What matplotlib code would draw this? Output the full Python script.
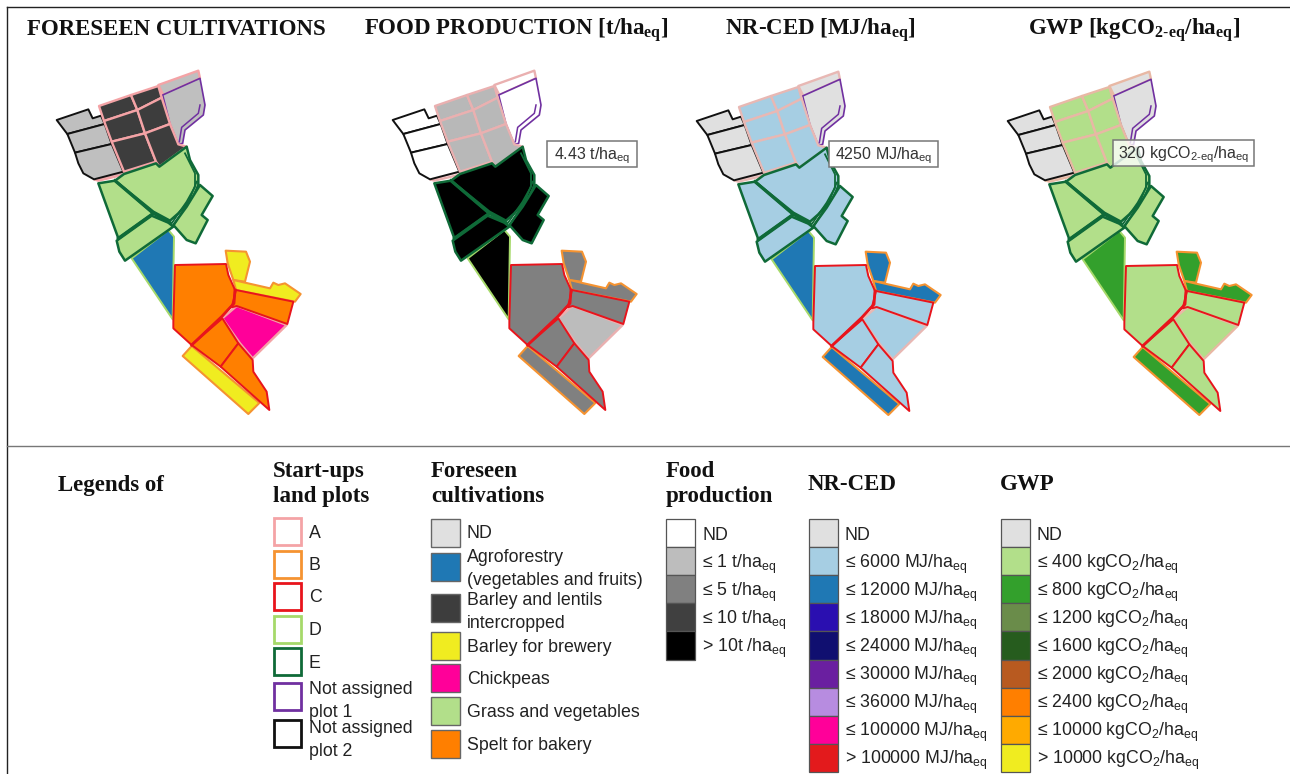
import matplotlib
matplotlib.use('Agg')
import matplotlib.pyplot as plt
from matplotlib.patches import Polygon, Rectangle

plt.rcParams['font.family'] = ['Liberation Sans', 'DejaVu Sans']
plt.rcParams['mathtext.fontset'] = 'custom'
plt.rcParams['mathtext.rm'] = 'Liberation Sans'
plt.rcParams['mathtext.bf'] = 'Liberation Serif:bold'

SERIF = ['Liberation Serif', 'DejaVu Serif']

titles = ['FORESEEN CULTIVATIONS', r'FOOD PRODUCTION [t/ha$_{\mathbf{eq}}$]',
          r'NR-CED [MJ/ha$_{\mathbf{eq}}$]', r'GWP [kgCO$_{\mathbf{2\text{-}eq}}$/ha$_{\mathbf{eq}}$]']
title_x = [27, 364, 725, 1028]
panel_dx = [0, 336, 640, 951]
panel_dy = [0, 0, 1, 1]

callouts = [r'4.43 t/ha$_{\mathrm{eq}}$', r'4250 MJ/ha$_{\mathrm{eq}}$',
            r'320 kgCO$_{\mathrm{2\text{-}eq}}$/ha$_{\mathrm{eq}}$']
callout_box = [(547, 141, 90, 26), (829, 141, 109, 26), (1113, 140, 141, 26)]
callout_alpha = [1.0, 1.0, 0.8]

PINK = '#f4a3a6'
ORANGE = '#f59331'
RED = '#e8141c'
LGREEN = '#a6d96a'
DGREEN = '#0f6a38'
PURPLE = '#7030a0'
BLACK = '#111111'
edge_lw = {PINK: 1.7, ORANGE: 1.5, RED: 1.4, LGREEN: 1.4, DGREEN: 1.8, PURPLE: 1.2, BLACK: 1.4}

# plot outlines (pixels x3 from the first map corner)
plots = [
    ('nd', PINK, [(385, 105), (505, 62), (510, 85), (400, 135)]),
    ('nd', PURPLE, [(398, 135), (510, 85), (525, 165), (520, 195), (465, 240), (458, 280), (445, 283), (420, 222)]),
    ('nd', PINK, [(192, 388), (280, 365), (290, 372), (205, 392)]),
    ('nd', BLACK, [(80, 210), (175, 178), (188, 205), (213, 197), (224, 222), (112, 252), (105, 243)]),
    ('nd', BLACK, [(112, 252), (224, 222), (245, 282), (135, 308)]),
    ('nd', BLACK, [(135, 308), (245, 282), (280, 365), (192, 388), (160, 370), (145, 340)]),
    ('barley', PINK, [(207, 168), (303, 135), (322, 180), (222, 213)]),
    ('barley', PINK, [(303, 135), (385, 108), (395, 143), (322, 180)]),
    ('barley', PINK, [(222, 213), (322, 180), (345, 250), (245, 275)]),
    ('barley', PINK, [(322, 180), (395, 143), (420, 222), (345, 250)]),
    ('barley', PINK, [(245, 275), (345, 250), (378, 335), (282, 365)]),
    ('barley', PINK, [(345, 250), (420, 222), (445, 283), (470, 290), (388, 350), (378, 335)]),
    ('agro', LGREEN, [(305, 625), (415, 540), (432, 560), (428, 808)]),
    ('grass', DGREEN, [(255, 392), (282, 372), (378, 340), (388, 350), (470, 290), (480, 330), (505, 375), (505, 405), (490, 440), (445, 490), (420, 512), (370, 485)]),
    ('grass', DGREEN, [(205, 400), (255, 392), (370, 490), (265, 565)]),
    ('grass', DGREEN, [(260, 572), (365, 497), (415, 518), (430, 530), (285, 632), (268, 605)]),
    ('grass', DGREEN, [(510, 405), (548, 438), (515, 495), (533, 510), (497, 580), (470, 570), (430, 525), (470, 470)]),
    ('brewery', ORANGE, [(587, 602), (648, 605), (660, 635), (645, 695), (610, 690), (593, 640)]),
    ('brewery', ORANGE, [(610, 690), (720, 715), (730, 698), (745, 705), (765, 700), (812, 732), (795, 755), (618, 720)]),
    ('brewery', ORANGE, [(485, 888), (688, 1059), (655, 1092), (458, 918)]),
    ('chickpea', PINK, [(620, 768), (770, 825), (668, 925), (630, 880), (577, 805)]),
    ('spelt', RED, [(435, 645), (588, 642), (595, 675), (615, 720), (612, 760), (575, 800), (485, 885), (430, 835), (430, 815)]),
    ('spelt', RED, [(485, 885), (577, 805), (625, 880), (572, 950)]),
    ('spelt', RED, [(572, 950), (625, 880), (668, 930), (670, 965), (710, 1025), (718, 1080)]),
    ('spelt', RED, [(618, 720), (790, 755), (772, 822), (620, 768), (605, 772)]),
]
purple_inner = [(510, 165), (505, 190), (455, 232), (448, 275)]
green_inner = [[(465, 310), (495, 370), (495, 410), (470, 455), (425, 520)],
               [(500, 395), (478, 450), (432, 525)]]
green_thick = [[(255, 392), (370, 490), (420, 518)], [(265, 565), (370, 490)]]
red_thick = [[(615, 720), (612, 760), (575, 800), (485, 885)]]

fills = [
    {'nd': '#bfbfbf', 'agro': '#1f78b4', 'barley': '#3d3d3d', 'brewery': '#f0ec20',
     'chickpea': '#ff0099', 'grass': '#b2df8a', 'spelt': '#ff7f00'},
    {'nd': '#ffffff', 'agro': '#000000', 'barley': '#b8b8b8', 'brewery': '#808080',
     'chickpea': '#bcbcbc', 'grass': '#000000', 'spelt': '#808080'},
    {'nd': '#e0e0e0', 'agro': '#1f78b4', 'barley': '#a6cee3', 'brewery': '#1f78b4',
     'chickpea': '#a6cee3', 'grass': '#a6cee3', 'spelt': '#a6cee3'},
    {'nd': '#e0e0e0', 'agro': '#33a02c', 'barley': '#b2df8a', 'brewery': '#33a02c',
     'chickpea': '#b2df8a', 'grass': '#b2df8a', 'spelt': '#b2df8a'},
]
pink_edge = [PINK, '#eab0b0', '#e8b8b4', '#e8b8a4']

# legends
owner_labels = ['A', 'B', 'C', 'D', 'E', 'Not assigned\nplot 1', 'Not assigned\nplot 2']
owner_colors = [PINK, ORANGE, RED, LGREEN, DGREEN, PURPLE, BLACK]
owner_y = [518, 551, 583, 616, 648, 683, 720]
owner_text_y = [533, 565.5, 598, 630.5, 663, 701, 740]

crop_labels = ['ND', 'Agroforestry\n(vegetables and fruits)', 'Barley and lentils\nintercropped',
               'Barley for brewery', 'Chickpeas', 'Grass and vegetables', 'Spelt for bakery']
crop_colors = ['#e0e0e0', '#1f78b4', '#3d3d3d', '#f0ec20', '#ff0099', '#b2df8a', '#ff7f00']
crop_y = [519, 553, 594, 632, 664, 697, 730]
crop_text_y = [533.5, 569, 612, 647.5, 679.5, 712.5, 745.5]

food_labels = ['ND', r'≤ 1 t/ha$_{\mathrm{eq}}$', r'≤ 5 t/ha$_{\mathrm{eq}}$',
               r'≤ 10 t/ha$_{\mathrm{eq}}$', r'> 10t /ha$_{\mathrm{eq}}$']
food_colors = ['#ffffff', '#bdbdbd', '#808080', '#404040', '#000000']

ced_limits = ['≤ 6000', '≤ 12000', '≤ 18000', '≤ 24000', '≤ 30000', '≤ 36000', '≤ 100000', '> 100000']
ced_colors = ['#e0e0e0', '#a6cee3', '#1f78b4', '#2a0fb0', '#100f70', '#6a1fa0', '#b78ce0', '#ff0099', '#e31a1c']

gwp_limits = ['≤ 400', '≤ 800', '≤ 1200', '≤ 1600', '≤ 2000', '≤ 2400', '≤ 10000', '> 10000']
gwp_colors = ['#e0e0e0', '#b2df8a', '#33a02c', '#6a8c4a', '#265c1e', '#b85a20', '#ff7f00', '#ffaa00', '#f0ec20']

SWATCH = 29
ROW = 28.1
TXT = 12.8


def draw_map(ax, dx, dy, fill, pink):
    def px(x):
        return 30 + dx + x / 3

    def py(y):
        return 50 + dy + y / 3

    for crop, edge, pts in plots:
        xy = [(px(x), py(y)) for x, y in pts]
        ec = pink if edge == PINK else edge
        ax.add_patch(Polygon(xy, closed=True, fc=fill[crop], ec=ec, lw=edge_lw[edge], joinstyle='round'))
    ax.plot([px(x) for x, y in purple_inner], [py(y) for x, y in purple_inner], color=PURPLE, lw=1.1)
    for pts in green_inner:
        ax.plot([px(x) for x, y in pts], [py(y) for x, y in pts], color=DGREEN, lw=1.3)
    for pts in green_thick:
        ax.plot([px(x) for x, y in pts], [py(y) for x, y in pts], color=DGREEN, lw=2.3)
    for pts in red_thick:
        ax.plot([px(x) for x, y in pts], [py(y) for x, y in pts], color=RED, lw=2.0)


def draw_stack(ax, x, labels, colors, y0=519):
    for i, (lab, col) in enumerate(zip(labels, colors)):
        y = y0 + i * ROW
        ax.add_patch(Rectangle((x, y), SWATCH, ROW, fc=col, ec='#555555', lw=0.9))
        ax.text(x + 36, y + ROW / 2 + 6.5, lab, fontsize=TXT, va='baseline', color='#222222')


def head(ax, x, y, s):
    ax.text(x, y, s, family=SERIF, weight='bold', fontsize=16.5, va='center', color='#111111', linespacing=1.27)


fig = plt.figure(figsize=(12.9, 7.74), dpi=100)
ax = fig.add_axes([0, 0, 1, 1])
ax.set_xlim(0, 1290)
ax.set_ylim(774, 0)
ax.axis('off')

# frame
ax.plot([7, 1290], [7, 7], color='#222222', lw=1.0)
ax.plot([7, 7], [7, 774], color='#222222', lw=1.0)
ax.plot([7, 1290], [446, 446], color='#777777', lw=1.0)

for s, x in zip(titles, title_x):
    ax.text(x, 35, s, family=SERIF, weight='bold', fontsize=16.5, va='baseline', color='#111111')

for dx, dy, fill, pink in zip(panel_dx, panel_dy, fills, pink_edge):
    draw_map(ax, dx, dy, fill, pink)

for s, (x, y, w, h), a in zip(callouts, callout_box, callout_alpha):
    ax.add_patch(Rectangle((x, y), w, h, fc=(1, 1, 1, a), ec='#777777', lw=1.1, zorder=5))
    ax.text(x + w / 2, y + h / 2 + 5.5, s, fontsize=11.5, ha='center', va='baseline', color='#333333', zorder=6)

head(ax, 58, 485, 'Legends of')
head(ax, 273, 484, 'Start-ups\nland plots')
head(ax, 431, 484, 'Foreseen\ncultivations')
head(ax, 666, 484, 'Food\nproduction')
head(ax, 808, 485, 'NR-CED')
head(ax, 1000, 485, 'GWP')

for lab, col, y, ty in zip(owner_labels, owner_colors, owner_y, owner_text_y):
    ax.add_patch(Rectangle((274, y), 27, 27, fc='white', ec=col, lw=2.0))
    ax.text(309, ty, lab, fontsize=TXT, va='center', color='#222222', linespacing=1.45)

for lab, col, y, ty in zip(crop_labels, crop_colors, crop_y, crop_text_y):
    ax.add_patch(Rectangle((431, y), SWATCH, 28, fc=col, ec='#666666', lw=1.0))
    ax.text(467, ty, lab, fontsize=TXT, va='center', color='#222222', linespacing=1.45)

ced_labels = ['ND'] + [s + r' MJ/ha$_{\mathrm{eq}}$' for s in ced_limits]
gwp_labels = ['ND'] + [s + r' kgCO$_{\mathrm{2}}$/ha$_{\mathrm{eq}}$' for s in gwp_limits]
draw_stack(ax, 666, food_labels, food_colors)
draw_stack(ax, 809, ced_labels, ced_colors)
draw_stack(ax, 1001, gwp_labels, gwp_colors)

fig.savefig('out.png', dpi=100)
